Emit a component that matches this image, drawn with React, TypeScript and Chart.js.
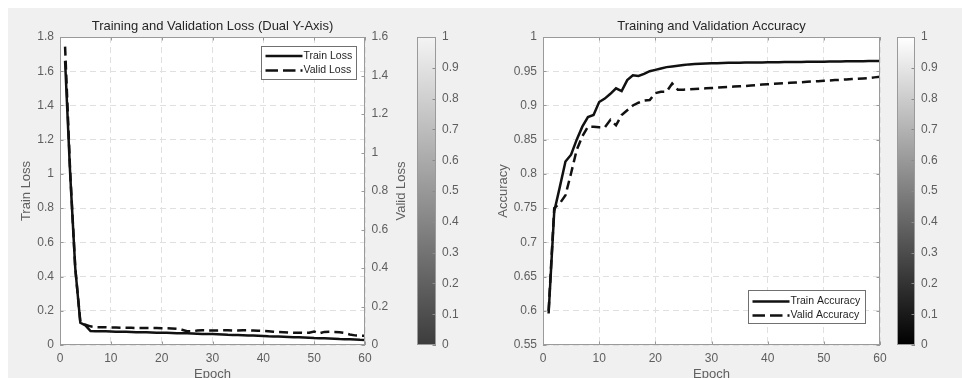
import React, { useEffect, useRef } from 'react';
import { Chart, registerables } from 'chart.js';

Chart.register(...registerables);

// ---------------- data ----------------
const epochs = [
  1, 2, 3, 4, 5, 6, 7, 8, 9, 10, 11, 12, 13, 14, 15, 16, 17, 18, 19, 20,
  21, 22, 23, 24, 25, 26, 27, 28, 29, 30, 31, 32, 33, 34, 35, 36, 37, 38, 39, 40,
  41, 42, 43, 44, 45, 46, 47, 48, 49, 50, 51, 52, 53, 54, 55, 56, 57, 58, 59, 60,
];

const trainLoss = [
  1.66, 1.0, 0.45, 0.13, 0.115, 0.082, 0.081, 0.08, 0.08, 0.079,
  0.078, 0.077, 0.077, 0.076, 0.075, 0.074, 0.074, 0.073, 0.072, 0.071,
  0.071, 0.07, 0.069, 0.068, 0.068, 0.067, 0.066, 0.065, 0.065, 0.064,
  0.063, 0.062, 0.06, 0.059, 0.058, 0.057, 0.056, 0.055, 0.054, 0.053,
  0.051, 0.05, 0.049, 0.048, 0.047, 0.046, 0.045, 0.044, 0.043, 0.041,
  0.04, 0.039, 0.038, 0.037, 0.035, 0.034, 0.033, 0.032, 0.03, 0.029,
];

const validLoss = [
  1.55, 0.9, 0.4, 0.12, 0.105, 0.097, 0.093, 0.092, 0.092, 0.091,
  0.091, 0.09, 0.09, 0.089, 0.088, 0.088, 0.088, 0.088, 0.088, 0.087,
  0.087, 0.086, 0.084, 0.079, 0.072, 0.071, 0.075, 0.077, 0.076, 0.075,
  0.075, 0.076, 0.076, 0.075, 0.075, 0.076, 0.076, 0.075, 0.074, 0.073,
  0.071, 0.069, 0.067, 0.066, 0.065, 0.064, 0.064, 0.063, 0.064, 0.07,
  0.06, 0.068, 0.069, 0.068, 0.066, 0.062, 0.055, 0.05, 0.049, 0.048,
];

const trainAcc = [
  0.596, 0.745, 0.781, 0.818, 0.828, 0.85, 0.869, 0.883, 0.886, 0.905,
  0.91, 0.917, 0.925, 0.921, 0.937, 0.944, 0.943, 0.946, 0.95, 0.952,
  0.954, 0.956, 0.957, 0.958, 0.959, 0.96, 0.9605, 0.961, 0.9612, 0.9615,
  0.9618, 0.962, 0.9622, 0.9623, 0.9625, 0.9626, 0.9627, 0.9628, 0.9629, 0.963,
  0.9631, 0.9632, 0.9633, 0.9634, 0.9635, 0.9636, 0.9637, 0.9638, 0.9639, 0.964,
  0.9641, 0.9642, 0.9643, 0.9644, 0.9645, 0.9646, 0.9647, 0.9648, 0.9649, 0.965,
];

const validAcc = [
  0.6, 0.75, 0.757, 0.769, 0.801, 0.835, 0.855, 0.869, 0.869, 0.868,
  0.868, 0.879, 0.871, 0.886, 0.893, 0.9, 0.904, 0.907, 0.908, 0.918,
  0.92, 0.92, 0.932, 0.923, 0.923, 0.9235, 0.924, 0.9245, 0.925, 0.9255,
  0.926, 0.9265, 0.927, 0.9275, 0.928, 0.9285, 0.929, 0.9295, 0.9305, 0.931,
  0.9315, 0.932, 0.9325, 0.933, 0.9335, 0.934, 0.9345, 0.935, 0.9355, 0.936,
  0.9365, 0.937, 0.9375, 0.938, 0.9385, 0.939, 0.9395, 0.94, 0.941, 0.942,
];

const epochTicks = [0, 10, 20, 30, 40, 50, 60];
const trainLossTicks = [0, 0.2, 0.4, 0.6, 0.8, 1, 1.2, 1.4, 1.6, 1.8];
const validLossTicks = [0, 0.2, 0.4, 0.6, 0.8, 1, 1.2, 1.4, 1.6];
const accTicks = [0.55, 0.6, 0.65, 0.7, 0.75, 0.8, 0.85, 0.9, 0.95, 1];
const colorbarTicks = [0, 0.1, 0.2, 0.3, 0.4, 0.5, 0.6, 0.7, 0.8, 0.9, 1];
const colorbarRange = [0, 1];

// ---------------- style ----------------
const FONT = "'Liberation Sans', Arial, Helvetica, sans-serif";
const TICK_COLOR = '#5e5e5e';
const LABEL_COLOR = '#606060';
const TITLE_COLOR = '#262626';
const FRAME_COLOR = '#9a9a9a';
const GRID_COLOR = '#e0e0e0';
const LINE_COLOR = '#111111';

const fmt = (v: any) => String(Number(Number(v).toFixed(2)));
const setTicks = (values: number[]) => (scale: any) => {
  scale.ticks = values.map((v) => ({ value: v }));
};
const toPoints = (ys: number[]) => epochs.map((e, i) => ({ x: e, y: ys[i] }));

// ---------------- plugin: MATLAB-like frame, inner ticks, legend ----------------
const matlabPlugin = {
  id: 'matlab',
  beforeDraw(chart: any, _args: any, opts: any) {
    const { ctx, chartArea } = chart;
    if (!chartArea || opts.noFill) return;
    ctx.save();
    ctx.fillStyle = '#ffffff';
    ctx.fillRect(chartArea.left, chartArea.top, chartArea.right - chartArea.left, chartArea.bottom - chartArea.top);
    ctx.restore();
  },
  afterDraw(chart: any, _args: any, opts: any) {
    const { ctx, chartArea: ca, scales } = chart;
    if (!ca) return;
    const L = 3.5;
    ctx.save();
    ctx.strokeStyle = opts.tickColor || FRAME_COLOR;
    ctx.lineWidth = 1;
    const seg = (x1: number, y1: number, x2: number, y2: number) => {
      ctx.beginPath();
      ctx.moveTo(x1, y1);
      ctx.lineTo(x2, y2);
      ctx.stroke();
    };
    if (opts.xTicks && scales.x) {
      scales.x.ticks.forEach((t: any) => {
        const px = Math.round(scales.x.getPixelForValue(t.value)) + 0.5;
        seg(px, ca.bottom, px, ca.bottom - L);
        seg(px, ca.top, px, ca.top + L);
      });
    }
    (opts.tickSides || []).forEach((s: any) => {
      const sc = scales[s.scale];
      if (!sc) return;
      sc.ticks.forEach((t: any) => {
        const py = Math.round(sc.getPixelForValue(t.value)) + 0.5;
        if (s.side === 'left') seg(ca.left, py, ca.left + L, py);
        else seg(ca.right, py, ca.right - L, py);
      });
    });
    // frame
    ctx.strokeStyle = FRAME_COLOR;
    ctx.strokeRect(Math.round(ca.left) + 0.5, Math.round(ca.top) + 0.5, Math.round(ca.right - ca.left) - 1, Math.round(ca.bottom - ca.top) - 1);

    // right axis title (MATLAB orientation)
    if (opts.rightTitle) {
      ctx.save();
      ctx.translate(opts.rightTitle.x, (ca.top + ca.bottom) / 2);
      ctx.rotate(-Math.PI / 2);
      ctx.font = `13px ${FONT}`;
      ctx.fillStyle = LABEL_COLOR;
      ctx.textAlign = 'center';
      ctx.textBaseline = 'middle';
      ctx.fillText(opts.rightTitle.text, 0, 0);
      ctx.restore();
    }

    // legend
    const lg = opts.legend;
    if (lg) {
      const bx = Math.round(ca.right - lg.right - lg.width) + 0.5;
      const by = Math.round(lg.top != null ? ca.top + lg.top : ca.bottom - lg.bottom - lg.height) + 0.5;
      ctx.fillStyle = '#ffffff';
      ctx.fillRect(bx, by, lg.width, lg.height);
      ctx.strokeStyle = '#707070';
      ctx.lineWidth = 1;
      ctx.strokeRect(bx, by, lg.width, lg.height);
      ctx.font = `10.5px ${FONT}`;
      ctx.textAlign = 'left';
      ctx.textBaseline = 'middle';
      chart.data.datasets.forEach((ds: any, i: number) => {
        const cy = by + lg.rows[i];
        ctx.strokeStyle = ds.borderColor;
        ctx.lineWidth = ds.borderWidth;
        ctx.setLineDash(ds.borderDash ? [12.5, 5] : []);
        seg(bx + 4, cy, bx + 41, cy);
        ctx.setLineDash([]);
        ctx.fillStyle = '#1e1e1e';
        ctx.fillText(ds.label, bx + 42, cy);
      });
    }
    ctx.restore();
  },
};

const tickFont = { family: FONT, size: 12 };
const titleFont = { family: FONT, size: 13, weight: 'normal' };

function xScale() {
  return {
    type: 'linear',
    min: 0,
    max: 60,
    afterBuildTicks: setTicks(epochTicks),
    afterFit: (s: any) => {
      s.height = 53;
    },
    grid: { color: GRID_COLOR, drawTicks: false, lineWidth: 1 },
    border: { display: false, dash: [6, 4] },
    ticks: { padding: 6, font: tickFont, color: TICK_COLOR, maxRotation: 0, callback: fmt },
    title: { display: true, text: 'Epoch', font: titleFont, color: LABEL_COLOR, padding: { top: 0, bottom: 15.5 } },
  };
}

function lossConfig(): any {
  return {
    type: 'line',
    data: {
      datasets: [
        {
          label: 'Train Loss',
          data: toPoints(trainLoss),
          yAxisID: 'y',
          borderColor: LINE_COLOR,
          borderWidth: 2.5,
          pointRadius: 0,
          tension: 0,
          fill: false,
        },
        {
          label: 'Valid Loss',
          data: toPoints(validLoss),
          yAxisID: 'y1',
          borderColor: LINE_COLOR,
          borderWidth: 2.5,
          borderDash: [9, 5],
          pointRadius: 0,
          tension: 0,
          fill: false,
        },
      ],
    },
    options: {
      animation: false,
      responsive: false,
      devicePixelRatio: 1,
      layout: { padding: 0 },
      plugins: {
        legend: { display: false },
        tooltip: { enabled: false },
        title: {
          display: true,
          fullSize: false,
          text: 'Training and Validation Loss (Dual Y-Axis)',
          font: titleFont,
          color: TITLE_COLOR,
          padding: { top: 10.9, bottom: 2.5 },
        },
        matlab: {
          xTicks: true,
          tickSides: [
            { scale: 'y', side: 'left' },
            { scale: 'y1', side: 'right' },
          ],
          rightTitle: { text: 'Valid Loss', x: 393.7 },
          legend: { right: 9, top: 9, width: 95, height: 33, rows: [9.5, 24] },
        },
      },
      scales: {
        x: xScale(),
        y: {
          type: 'linear',
          position: 'left',
          min: 0,
          max: 1.8,
          afterBuildTicks: setTicks(trainLossTicks),
          afterFit: (s: any) => {
            s.width = 52;
          },
          grid: { color: GRID_COLOR, drawTicks: false },
          border: { display: false, dash: [6, 4] },
          ticks: { padding: 6, font: tickFont, color: TICK_COLOR, callback: fmt },
          title: { display: true, text: 'Train Loss', font: titleFont, color: LABEL_COLOR, padding: { top: 10.9, bottom: 0 } },
        },
        y1: {
          type: 'linear',
          position: 'right',
          min: 0,
          max: 1.6,
          afterBuildTicks: setTicks(validLossTicks),
          afterFit: (s: any) => {
            s.width = 48;
          },
          grid: { drawOnChartArea: false, drawTicks: false },
          border: { display: false },
          ticks: { padding: 6.5, font: tickFont, color: TICK_COLOR, callback: fmt },
        },
      },
    },
    plugins: [matlabPlugin],
  };
}

function accConfig(): any {
  return {
    type: 'line',
    data: {
      datasets: [
        {
          label: 'Train Accuracy',
          data: toPoints(trainAcc),
          borderColor: LINE_COLOR,
          borderWidth: 2.5,
          pointRadius: 0,
          tension: 0,
          fill: false,
        },
        {
          label: 'Valid Accuracy',
          data: toPoints(validAcc),
          borderColor: LINE_COLOR,
          borderWidth: 2.5,
          borderDash: [9, 5],
          pointRadius: 0,
          tension: 0,
          fill: false,
        },
      ],
    },
    options: {
      animation: false,
      responsive: false,
      devicePixelRatio: 1,
      layout: { padding: { left: 0, right: 18, top: 0, bottom: 0 } },
      plugins: {
        legend: { display: false },
        tooltip: { enabled: false },
        title: {
          display: true,
          fullSize: false,
          text: 'Training and Validation Accuracy',
          font: titleFont,
          color: TITLE_COLOR,
          padding: { top: 10.9, bottom: 2.5 },
        },
        matlab: {
          xTicks: true,
          tickSides: [
            { scale: 'y', side: 'left' },
            { scale: 'y', side: 'right' },
          ],
          legend: { right: 15, bottom: 22, width: 117, height: 33, rows: [11, 25] },
        },
      },
      scales: {
        x: xScale(),
        y: {
          type: 'linear',
          position: 'left',
          min: 0.55,
          max: 1,
          afterBuildTicks: setTicks(accTicks),
          afterFit: (s: any) => {
            s.width = 65;
          },
          grid: { color: GRID_COLOR, drawTicks: false },
          border: { display: false, dash: [6, 4] },
          ticks: { padding: 6, font: tickFont, color: TICK_COLOR, callback: fmt },
          title: { display: true, text: 'Accuracy', font: titleFont, color: LABEL_COLOR, padding: { top: 17.2, bottom: 0 } },
        },
      },
    },
    plugins: [matlabPlugin],
  };
}

function colorbarConfig(axisWidth: number, bottomColor: string, topColor: string): any {
  return {
    type: 'bar',
    data: {
      labels: ['cb'],
      datasets: [
        {
          data: [colorbarRange],
          borderWidth: 0,
          categoryPercentage: 1,
          barPercentage: 1,
          backgroundColor: (c: any) => {
            const ca = c.chart.chartArea;
            if (!ca) return '#888888';
            const g = c.chart.ctx.createLinearGradient(0, ca.bottom, 0, ca.top);
            g.addColorStop(0, bottomColor);
            g.addColorStop(1, topColor);
            return g;
          },
        },
      ],
    },
    options: {
      animation: false,
      responsive: false,
      devicePixelRatio: 1,
      layout: { padding: { left: 9, right: 0, top: 29, bottom: 53 } },
      plugins: {
        legend: { display: false },
        tooltip: { enabled: false },
        matlab: {
          noFill: true,
          xTicks: false,
          tickColor: '#8a8a8a',
          tickSides: [{ scale: 'y', side: 'right' }],
        },
      },
      scales: {
        x: { display: false },
        y: {
          type: 'linear',
          position: 'right',
          min: 0,
          max: 1,
          afterBuildTicks: setTicks(colorbarTicks),
          afterFit: (s: any) => {
            s.width = axisWidth;
          },
          grid: { display: false, drawTicks: false },
          border: { display: false },
          ticks: { padding: 6, font: tickFont, color: TICK_COLOR, callback: fmt },
        },
      },
    },
    plugins: [matlabPlugin],
  };
}

export default function App() {
  const lossRef = useRef<HTMLCanvasElement>(null);
  const cb1Ref = useRef<HTMLCanvasElement>(null);
  const accRef = useRef<HTMLCanvasElement>(null);
  const cb2Ref = useRef<HTMLCanvasElement>(null);

  useEffect(() => {
    const charts = [
      new Chart(lossRef.current as HTMLCanvasElement, lossConfig()),
      new Chart(accRef.current as HTMLCanvasElement, accConfig()),
      new Chart(cb1Ref.current as HTMLCanvasElement, colorbarConfig(32, '#3c3c3c', '#f4f4f4')),
      new Chart(cb2Ref.current as HTMLCanvasElement, colorbarConfig(47, '#000000', '#ffffff')),
    ];
    return () => charts.forEach((c) => c.destroy());
  }, []);

  const abs = (left: number, w: number): React.CSSProperties => ({
    position: 'absolute',
    left,
    top: 0,
    width: w,
    height: 390,
  });

  return (
    <div
      style={{
        position: 'fixed',
        left: 8,
        top: 8,
        width: 954,
        height: 370,
        background: '#f0f0f0',
        overflow: 'hidden',
      }}
    >
      <canvas ref={lossRef} width={405} height={390} style={abs(0, 405)} />
      <canvas ref={cb1Ref} width={60} height={390} style={abs(400, 60)} />
      <canvas ref={accRef} width={420} height={390} style={abs(470, 420)} />
      <canvas ref={cb2Ref} width={74} height={390} style={abs(880, 74)} />
    </div>
  );
}
